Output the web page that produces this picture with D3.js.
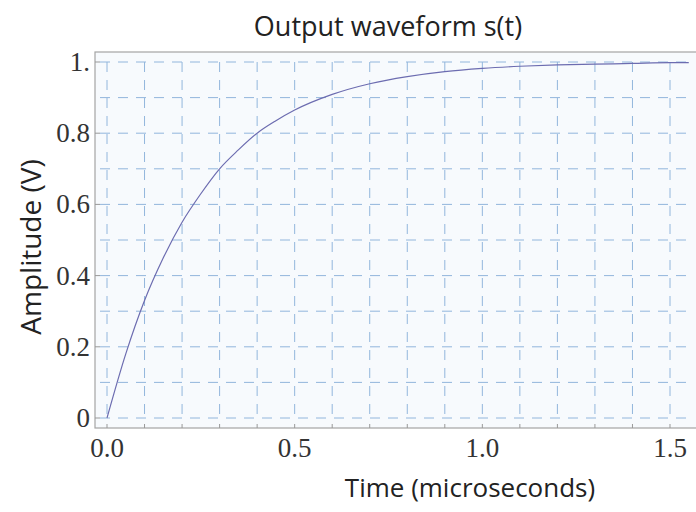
<!DOCTYPE html>
<html>
<head>
<meta charset="utf-8">
<script src="https://cdn.jsdelivr.net/npm/d3@7"></script>
<style>
body{margin:0;background:#fff}
svg{display:block}
</style>
</head>
<body>
<svg id="chart"></svg>
<script>
// values
var times=[0,0.05,0.1,0.15,0.2,0.25,0.3,0.35,0.4,0.45,0.5,0.6,0.7,0.8,0.9,1.0,1.1,1.2,1.3,1.4,1.5,1.55]
var amps=[0,0.18,0.33,0.45,0.55,0.63,0.70,0.753,0.80,0.835,0.865,0.909,0.939,0.959,0.973,0.982,0.988,0.992,0.994,0.996,0.998,0.998]
var xTicks=[0,0.5,1.0,1.5]
var xTickLabels=["0.0","0.5","1.0","1.5"]
var yTicks=[0,0.2,0.4,0.6,0.8,1]
var yTickLabels=["0","0.2","0.4","0.6","0.8","1."]
var xGrid=[0,0.1,0.2,0.3,0.4,0.5,0.6,0.7,0.8,0.9,1.0,1.1,1.2,1.3,1.4,1.5]
var yGrid=[0,0.1,0.2,0.3,0.4,0.5,0.6,0.7,0.8,0.9,1.0]

var screen={width:696,height:512}
var svg=d3.select("#chart")
    .attr("width",screen.width)
    .attr("height",screen.height)

var xScale=d3.scaleLinear().domain([0,1.5]).range([107,670])
var yScale=d3.scaleLinear().domain([0,1]).range([418,62])

//plot frame
svg.append("rect")
    .attr("x",95).attr("y",52)
    .attr("width",620).attr("height",376)
    .attr("fill","#f7fafd")
    .attr("stroke","#a4a4a4")
    .attr("stroke-width",1.2)

var gridColor="#92b6dc"
svg.append("g").selectAll("line")
    .data(yGrid).enter().append("line")
    .attr("x1",100).attr("x2",690)
    .attr("y1",function(d){return yScale(d)})
    .attr("y2",function(d){return yScale(d)})
    .attr("stroke",gridColor)
    .attr("stroke-width",1)
    .attr("stroke-dasharray","10,8")
svg.append("g").selectAll("line")
    .data(xGrid).enter().append("line")
    .attr("y1",yScale(1)).attr("y2",yScale(0)+4)
    .attr("x1",function(d){return xScale(d)})
    .attr("x2",function(d){return xScale(d)})
    .attr("stroke",gridColor)
    .attr("stroke-width",1)
    .attr("stroke-dasharray","10,8")

//small ticks on frame
svg.append("g").selectAll("line")
    .data(xGrid).enter().append("line")
    .attr("x1",function(d){return xScale(d)})
    .attr("x2",function(d){return xScale(d)})
    .attr("y1",424).attr("y2",428)
    .attr("stroke","#999")
svg.append("g").selectAll("line")
    .data(yTicks).enter().append("line")
    .attr("x1",95).attr("x2",100)
    .attr("y1",function(d){return yScale(d)})
    .attr("y2",function(d){return yScale(d)})
    .attr("stroke","#999")

//curve
var line=d3.line()
    .x(function(d,i){return xScale(times[i])})
    .y(function(d){return yScale(d)})
    .curve(d3.curveMonotoneX)
svg.append("path")
    .datum(amps)
    .attr("d",line)
    .attr("fill","none")
    .attr("stroke","#6c6cb0")
    .attr("stroke-width",1.2)

//tick labels
svg.append("g").selectAll("text")
    .data(yTicks).enter().append("text")
    .attr("x",90)
    .attr("y",function(d){return yScale(d)+9})
    .attr("text-anchor","end")
    .attr("font-family","Liberation Serif")
    .attr("font-size",27)
    .attr("fill","#333")
    .text(function(d,i){return yTickLabels[i]})
svg.append("g").selectAll("text")
    .data(xTicks).enter().append("text")
    .attr("x",function(d){return xScale(d)})
    .attr("y",457)
    .attr("text-anchor","middle")
    .attr("font-family","Liberation Serif")
    .attr("font-size",27)
    .attr("fill","#333")
    .text(function(d,i){return xTickLabels[i]})

//titles
svg.append("text")
    .attr("x",388).attr("y",36)
    .attr("text-anchor","middle")
    .attr("font-family","Open Sans")
    .attr("font-size",27)
    .attr("fill","#222")
    .text("Output waveform s(t)")
svg.append("text")
    .attr("x",470).attr("y",497)
    .attr("text-anchor","middle")
    .attr("font-family","Open Sans")
    .attr("font-size",26)
    .attr("fill","#222")
    .text("Time (microseconds)")
svg.append("text")
    .attr("transform","translate(41,247) rotate(-90)")
    .attr("text-anchor","middle")
    .attr("font-family","Open Sans")
    .attr("font-size",28)
    .attr("fill","#222")
    .text("Amplitude (V)")
</script>
</body>
</html>
